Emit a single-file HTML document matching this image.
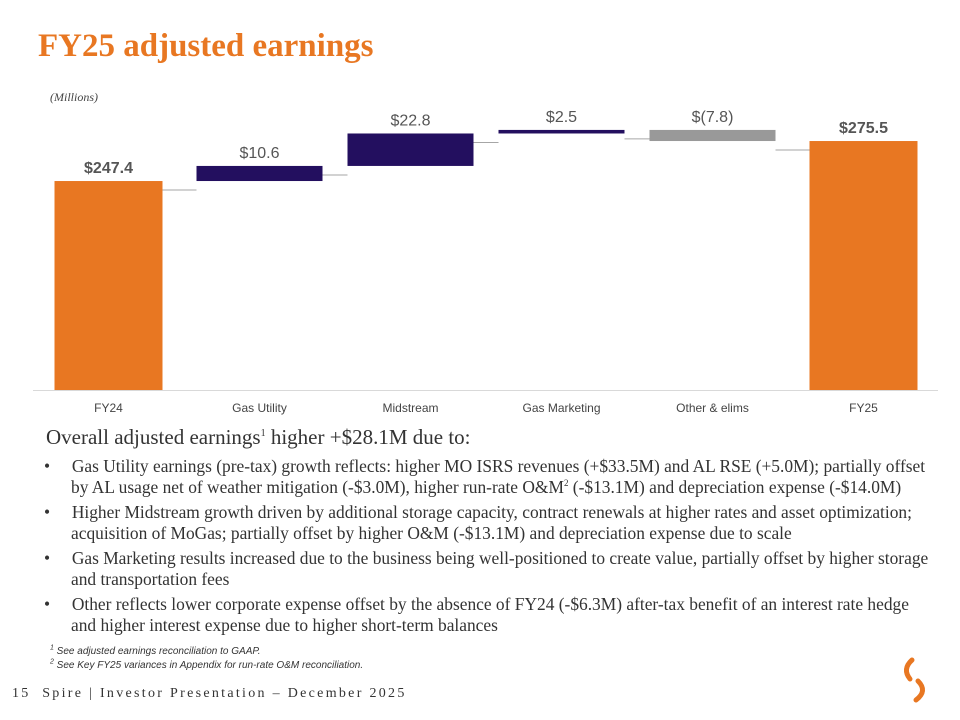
<!DOCTYPE html>
<html><head><meta charset="utf-8"><style>
body{margin:0;width:960px;height:720px;background:#fff;position:relative;overflow:hidden;font-family:"Liberation Serif",serif}
.t{position:absolute;margin:0}
sup{line-height:0;vertical-align:super}
.b{padding-left:27px;text-indent:-27px;margin-bottom:4px}
</style></head><body>
<div class="t" style="left:38px;top:28px;font-size:33px;color:#E87722;font-weight:bold;font-family:'Liberation Serif',serif">FY25 adjusted earnings</div>
<div class="t" style="left:50px;top:90px;font-size:12px;font-style:italic;color:#444">(Millions)</div>
<svg id="chart" width="960" height="420" style="position:absolute;left:0;top:0" font-family="Liberation Sans, sans-serif"></svg>
<div class="t" style="left:46px;top:425px;font-size:21px;color:#333">Overall adjusted earnings<sup style="font-size:10px">1</sup> higher +$28.1M due to:</div>
<div style="position:absolute;left:44px;top:455.5px;width:892px;font-size:17.4px;color:#333;line-height:21px">
<div class="b">•&nbsp;&nbsp;&nbsp;&nbsp;&nbsp;Gas Utility earnings (pre-tax) growth reflects: higher MO ISRS revenues (+$33.5M) and AL RSE (+5.0M); partially offset by AL usage net of weather mitigation (-$3.0M), higher run-rate O&amp;M<sup style="font-size:9px">2</sup> (-$13.1M) and depreciation expense (-$14.0M)</div>
<div class="b">•&nbsp;&nbsp;&nbsp;&nbsp;&nbsp;Higher Midstream growth driven by additional storage capacity, contract renewals at higher rates and asset optimization; acquisition of MoGas; partially offset by higher O&amp;M (-$13.1M) and depreciation expense due to scale</div>
<div class="b">•&nbsp;&nbsp;&nbsp;&nbsp;&nbsp;Gas Marketing results increased due to the business being well-positioned to create value, partially offset by higher storage and transportation fees</div>
<div class="b">•&nbsp;&nbsp;&nbsp;&nbsp;&nbsp;Other reflects lower corporate expense offset by the absence of FY24 (-$6.3M) after-tax benefit of an interest rate hedge and higher interest expense due to higher short-term balances</div>
</div>
<div class="t" style="left:50px;top:646px;font-size:10px;font-style:italic;color:#333;font-family:'Liberation Sans',sans-serif"><sup style="font-size:7px">1</sup> See adjusted earnings reconciliation to GAAP.</div>
<div class="t" style="left:50px;top:660px;font-size:10px;font-style:italic;color:#333;font-family:'Liberation Sans',sans-serif"><sup style="font-size:7px">2</sup> See Key FY25 variances in Appendix for run-rate O&amp;M reconciliation.</div>
<div class="t" style="left:12px;top:686px;font-size:14px;letter-spacing:2.3px;color:#333">15&nbsp; Spire | Investor Presentation – December 2025</div>
<svg width="30" height="50" style="position:absolute;left:900px;top:655px"><path d="M12 5 Q2 14 10 24" stroke="#E87722" stroke-width="5" fill="none" stroke-linecap="round"/><path d="M18 26 Q28 36 16 45" stroke="#E87722" stroke-width="5" fill="none" stroke-linecap="round"/></svg>
<script>
const categories=["FY24","Gas Utility","Midstream","Gas Marketing","Other & elims","FY25"];
const deltas=[247.4,10.6,22.8,2.5,-7.8,275.5];
const labels=["$247.4","$10.6","$22.8","$2.5","$(7.8)","$275.5"];
const kinds=["total","delta","delta","delta","delta","total"];
const svg=document.getElementById('chart');const NS='http://www.w3.org/2000/svg';
const yMin=100.6,yBase=390,pxPer=1.4235;
const y=v=>yBase-(v-yMin)*pxPer;
const x0=33,step=151;const cx=i=>x0+step*(i+0.5);
function mk(t,a){const e=document.createElementNS(NS,t);for(const k in a)e.setAttribute(k,a[k]);svg.appendChild(e);return e;}
const ax=mk('line',{x1:33,x2:938,y1:390.5,y2:390.5,stroke:'#d9d9d9'});


let run=0;const ends=[];
categories.forEach((c,i)=>{
 let lo,hi,col,w;
 if(kinds[i]==='total'){lo=yMin;hi=deltas[i];run=deltas[i];col='#E87722';w=108;}
 else{const s=run;run+=deltas[i];lo=Math.min(s,run);hi=Math.max(s,run);col=deltas[i]<0?'#999999':'#230F5F';w=126;}
 ends.push(run);
 const r=mk('rect',{x:cx(i)-w/2,y:y(hi),width:w,height:y(lo)-y(hi),fill:col});
 
 
 const bold=kinds[i]==='total';
 const t=mk('text',{x:cx(i),y:y(hi)-8,'text-anchor':'middle','font-size':16,fill:'#555','font-weight':bold?'bold':'normal'});
 t.textContent=labels[i];
 
 
 const xl=mk('text',{x:cx(i),y:412,'text-anchor':'middle','font-size':12,fill:'#444'});
 xl.textContent=c;
 
 
});
for(let i=0;i<categories.length-1;i++){
 const wi=kinds[i]==='total'?54:63,wn=kinds[i+1]==='total'?54:63;
 const l=mk('line',{x1:cx(i)+wi,x2:cx(i+1)-wn,y1:y(ends[i])+9,y2:y(ends[i])+9,stroke:'#a6a6a6','stroke-width':1});
 
 
}
</script>
</body></html>
